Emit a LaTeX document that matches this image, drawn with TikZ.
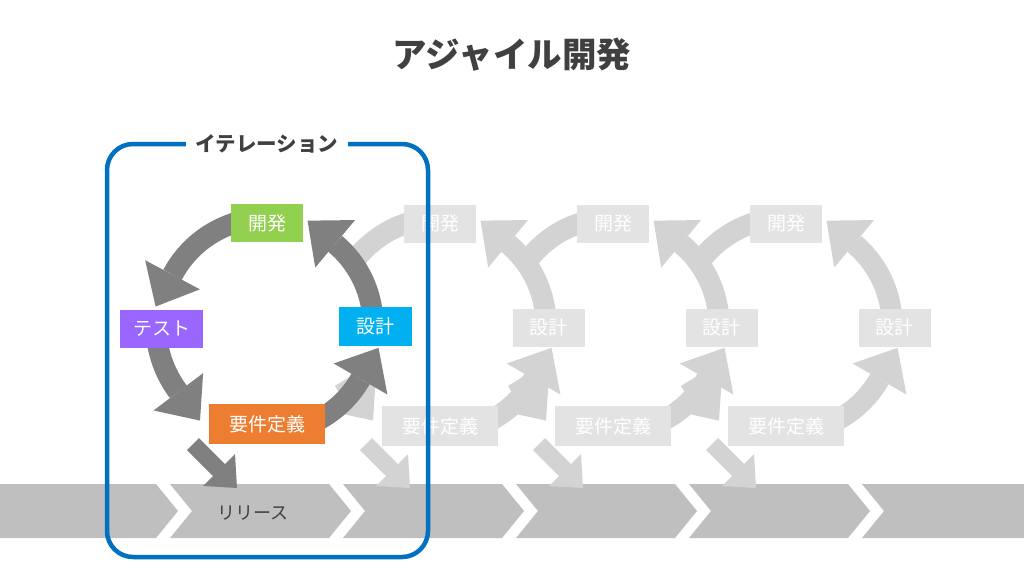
\documentclass[tikz,border=0pt]{standalone}
\usepackage{fontspec}
\newfontfamily\jp{Noto Sans CJK JP}
\usetikzlibrary{calc}
\definecolor{darkarr}{HTML}{808080}
\definecolor{ghostarr}{HTML}{D3D3D3}
\definecolor{ghostbox}{HTML}{E3E3E3}
\definecolor{bandgray}{HTML}{BFBFBF}
\definecolor{frameblue}{HTML}{0070C0}
\definecolor{txtdark}{HTML}{404040}
\definecolor{devgreen}{HTML}{92D050}
\definecolor{testpurple}{HTML}{9966FF}
\definecolor{designblue}{HTML}{00B0F0}
\definecolor{reqorange}{HTML}{ED7D31}
% #1 centre, #2 radius, #3 start angle, #4 end angle, #5 colour
\newcommand\arcshaft[5]{\draw[line width=21pt,#5] ($(#1)+(#3:#2)$) arc[start angle=#3,end angle=#4,radius=#2];}
% #1 centre, #2 radius, #3 angle of head base, #4 colour
\newcommand\archead[4]{\fill[#4] ($(#1)+(#3:#2)+(#3-90:36)$) -- ($(#1)+(#3:#2)+(#3:31)$) -- ($(#1)+(#3:#2)+(#3+180:31)$) -- cycle;}
% release arrow, #1 x offset, #2 colour
\newcommand\relarrow[2]{\fill[#2] (199+#1,438) -- (225+#1,464) -- (235+#1,454) -- (237+#1,488) -- (203+#1,486) -- (213+#1,476) -- (187+#1,450) -- cycle;}
\begin{document}
\begin{tikzpicture}[x=1pt,y=-1pt,
  box/.style={minimum height=38pt, inner sep=0pt, text=white, font=\jp\fontsize{19}{22}\selectfont},
  ghost/.style={box, fill=ghostbox}]
\useasboundingbox (0,0) rectangle (1024,576);
\fill[white] (0,0) rectangle (1024,576);

% title
\node[text=txtdark, font=\jp\bfseries\fontsize{34.5}{40}\selectfont] (title) at (512,55) {アジャイル開発};

% band
\fill[bandgray] (0,484) -- (156,484) -- (178,511) -- (156,538) -- (0,538) -- cycle;
\foreach \i in {1,...,4} {
  \pgfmathsetmacro\pl{178+173*(\i-1)}
  \pgfmathsetmacro\pr{178+173*\i}
  \fill[bandgray] (\pl-8,484) -- (\pr-22,484) -- (\pr,511) -- (\pr-22,538) -- (\pl-8,538) -- (\pl+14,511) -- cycle;
}
\fill[bandgray] (862,484) -- (1024,484) -- (1024,538) -- (862,538) -- (884,511) -- cycle;
\node[text=txtdark, font=\jp\fontsize{18}{22}\selectfont] (release) at (253,513) {リリース};

% ghost cycles: arrows
\foreach \k in {1,2,3} {
  \coordinate (g\k) at (267+173*\k,325);
  \arcshaft{g\k}{108}{62}{30}{ghostarr}
  \archead{g\k}{108}{30}{ghostarr}
  \arcshaft{g\k}{106}{-5}{-50}{ghostarr}
  \archead{g\k}{106}{-50}{ghostarr}
  \arcshaft{g\k}{107}{-105}{-144}{ghostarr}
  \arcshaft{g\k}{111}{150}{143}{ghostarr}
  \archead{g\k}{111}{143}{ghostarr}
  \relarrow{173*\k}{ghostarr}
}
% ghost cycles: boxes
\foreach \k in {1,2,3} {
  \node[ghost, minimum width=72pt] (gdev\k) at (267+173*\k,223.5) {開発};
  \node[ghost, minimum width=72pt] (gdes\k) at (375.5+173*\k,327.5) {設計};
  \node[ghost, minimum width=116pt, minimum height=40pt] (greq\k) at (267+173*\k,426) {要件定義};
}

% main cycle
\coordinate (c0) at (267,325);
\arcshaft{c0}{108}{62}{30}{darkarr}
\archead{c0}{108}{30}{darkarr}
\arcshaft{c0}{106}{-5}{-50}{darkarr}
\archead{c0}{106}{-50}{darkarr}
\arcshaft{c0}{107}{-105}{-152}{darkarr}
\archead{c0}{107}{-152}{darkarr}
\arcshaft{c0}{111}{170}{143}{darkarr}
\archead{c0}{111}{143}{darkarr}
\relarrow{0}{darkarr}

\node[box, fill=devgreen, minimum width=72pt] (dev) at (267,223) {開発};
\node[box, fill=testpurple, minimum width=83pt] (test) at (161.5,329) {テスト};
\node[box, fill=designblue, minimum width=73pt, minimum height=39pt] (des) at (375.5,326.5) {設計};
\node[box, fill=reqorange, minimum width=116pt, minimum height=40pt] (req) at (267,424) {要件定義};

% iteration frame
\draw[frameblue, line width=4.5pt, rounded corners=26pt] (107,144) rectangle (428,557);
\node[fill=white, inner xsep=10pt, inner ysep=2pt, text=txtdark, font=\jp\bfseries\fontsize{20.5}{24}\selectfont] (iter) at (267,144) {イテレーション};
\end{tikzpicture}
\end{document}
